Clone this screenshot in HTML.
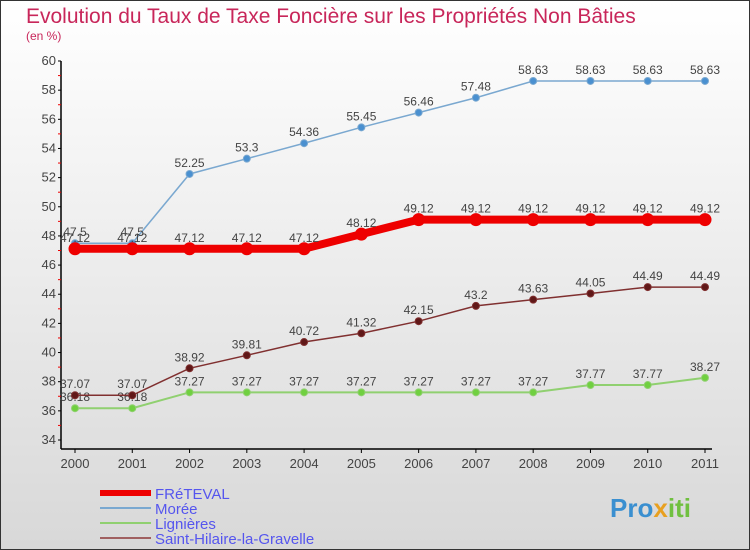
<!DOCTYPE html>
<html><head><meta charset="utf-8"><style>
body{margin:0;width:750px;height:550px;overflow:hidden;font-family:"Liberation Sans",sans-serif}
#c{position:absolute;left:0;top:0;width:748px;height:548px;border:1px solid #333;background:linear-gradient(#fff,#d8d8d8)}
</style></head><body>
<div id="c">
<svg id="s" width="750" height="550" style="position:absolute;left:-1px;top:-1px">
<text x="26" y="23" font-size="21" fill="#c8265a">Evolution du Taux de Taxe Foncière sur les Propriétés Non Bâties</text>
<text x="26" y="40" font-size="12" fill="#c8265a">(en %)</text>
<text x="610" y="517" font-size="26" font-weight="bold" fill="#3a8fd0">Pro<tspan fill="#e8a020">x</tspan><tspan fill="#70c040">iti</tspan></text>
</svg></div>
<script>
const years=['2000','2001','2002','2003','2004','2005','2006','2007','2008','2009','2010','2011'];
const yTicks=[34,36,38,40,42,44,46,48,50,52,54,56,58,60];
const freteval=[47.12,47.12,47.12,47.12,47.12,48.12,49.12,49.12,49.12,49.12,49.12,49.12];
const moree=[47.5,47.5,52.25,53.3,54.36,55.45,56.46,57.48,58.63,58.63,58.63,58.63];
const lignieres=[36.18,36.18,37.27,37.27,37.27,37.27,37.27,37.27,37.27,37.77,37.77,38.27];
const sthilaire=[37.07,37.07,38.92,39.81,40.72,41.32,42.15,43.2,43.63,44.05,44.49,44.49];
const s=document.getElementById('s');const NS='http://www.w3.org/2000/svg';
function X(i){return 75+i*(630/11);}
function Y(v){return 440-(v-34)*(379/26);}
function el(t,a,txt){const e=document.createElementNS(NS,t);for(const k in a)e.setAttribute(k,a[k]);if(txt!=null)e.textContent=txt;s.appendChild(e);return e;}
let e=el('line',{x1:61,y1:61,x2:61,y2:449,stroke:'#000','stroke-width':1.5});

e=el('line',{x1:61,y1:449,x2:712,y2:449,stroke:'#000','stroke-width':1.5});

yTicks.forEach((v,i)=>{
 el('line',{x1:58,y1:Y(v),x2:61,y2:Y(v),stroke:'#000'});
 if(i<yTicks.length-1)el('line',{x1:58,y1:Y(v+1),x2:61,y2:Y(v+1),stroke:'#e00'});
 const t=el('text',{x:56,y:Y(v)+4,'font-size':13,fill:'#444','text-anchor':'end'},String(v));
 
});
years.forEach((y,i)=>{
 el('line',{x1:X(i),y1:449,x2:X(i),y2:453,stroke:'#000'});
 const t=el('text',{x:X(i),y:468,'font-size':13,fill:'#444','text-anchor':'middle'},y);
 
});
function series(d,color,w,r,fill,name){
 const p=el('polyline',{points:d.map((v,i)=>X(i)+','+Y(v)).join(' '),fill:'none',stroke:color,'stroke-width':w});
 
 d.forEach((v,i)=>{
  const c=el('circle',{cx:X(i),cy:Y(v),r:r,fill:fill,stroke:color,'stroke-width':1});
  
  const t=el('text',{x:X(i),y:Y(v)-7,'font-size':12,fill:'#444','text-anchor':'middle'},String(v));
  
 });
}
series(moree,'#7aa8d0',1.5,3.5,'#4a90d0','moree');
series(lignieres,'#90d070',2,3.5,'#70d040','lignieres');
series(sthilaire,'#803030',1.5,3.5,'#601818','saint-hilaire');
series(freteval,'#ee0000',8,6,'#ee0000','freteval');
const leg=[['FRéTEVAL','#ee0000',6],['Morée','#7aa8d0',2],['Lignières','#90d070',2],['Saint-Hilaire-la-Gravelle','#a06060',2]];
leg.forEach((l,i)=>{
 const y=493+i*15;
 el('line',{x1:100,y1:y,x2:151,y2:y,stroke:l[1],'stroke-width':l[2]});
 const t=el('text',{x:155,y:y+6,'font-size':15,fill:'#5555ee'},l[0]);
 
});
</script></body></html>
